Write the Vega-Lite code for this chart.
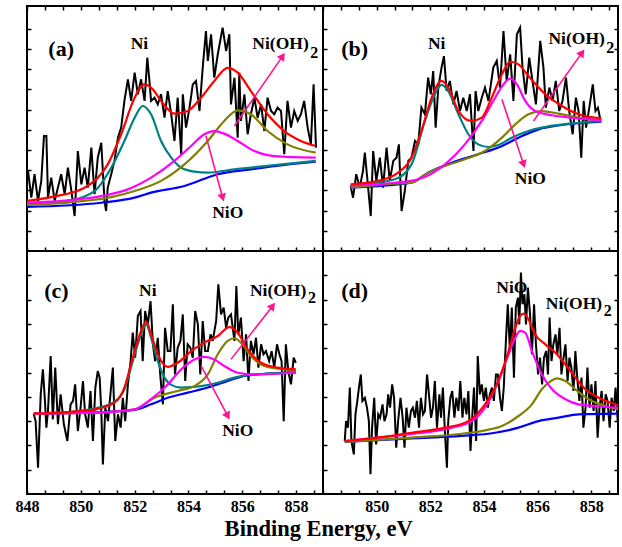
{
  "$schema": "https://vega.github.io/schema/vega-lite/v6.json",
  "padding": {"left": 14, "top": 4, "right": 4, "bottom": 4},
  "background": "white",
  "title": {"text": "Binding Energy, eV", "orient": "bottom", "anchor": "middle", "font": "Times New Roman, Liberation Serif, serif", "fontSize": 22.5, "fontWeight": "bold", "color": "black", "offset": 3},
  "config": {
    "view": {"stroke": "black", "strokeWidth": 2},
    "axis": {"tickColor": "black", "tickWidth": 1.5, "domain": false, "grid": false, "title": null},
    "text": {"font": "Times New Roman, Liberation Serif, serif"}
  },
  "datasets": {
    "a_exp": [
      {"x":848.04,"y":3.96},{"x":848.16,"y":2.64},{"x":848.28,"y":3.8},{"x":848.41,"y":2.48},{"x":848.53,"y":3.47},{"x":848.63,"y":5.69},{"x":848.72,"y":5.69},{"x":848.78,"y":2.64},{"x":848.9,"y":3.63},{"x":849.03,"y":2.48},{"x":849.15,"y":3.14},{"x":849.27,"y":3.8},{"x":849.4,"y":2.81},{"x":849.52,"y":4.13},{"x":849.65,"y":2.97},{"x":849.77,"y":1.73},{"x":849.89,"y":4.95},{"x":850.02,"y":3.3},{"x":850.14,"y":4.13},{"x":850.26,"y":3.14},{"x":850.39,"y":5.12},{"x":850.51,"y":2.81},{"x":850.63,"y":4.62},{"x":850.76,"y":5.36},{"x":850.88,"y":2.48},{"x":850.94,"y":1.98},{"x":851.0,"y":3.14},{"x":851.13,"y":3.8},{"x":851.25,"y":4.46},{"x":851.38,"y":5.61},{"x":851.5,"y":6.11},{"x":851.62,"y":7.43},{"x":851.75,"y":8.5},{"x":851.87,"y":7.43},{"x":852.0,"y":8.83},{"x":852.12,"y":7.76},{"x":852.24,"y":8.5},{"x":852.37,"y":7.43},{"x":852.47,"y":9.57},{"x":852.55,"y":8.42},{"x":852.61,"y":7.43},{"x":852.74,"y":7.59},{"x":852.86,"y":7.26},{"x":852.98,"y":7.76},{"x":853.11,"y":6.6},{"x":853.23,"y":7.92},{"x":853.36,"y":6.77},{"x":853.48,"y":5.45},{"x":853.6,"y":7.59},{"x":853.73,"y":4.79},{"x":853.79,"y":7.76},{"x":853.91,"y":6.11},{"x":854.04,"y":7.1},{"x":854.16,"y":8.25},{"x":854.28,"y":8.42},{"x":854.41,"y":6.93},{"x":854.53,"y":9.08},{"x":854.65,"y":10.89},{"x":854.72,"y":9.41},{"x":854.84,"y":10.73},{"x":854.96,"y":8.58},{"x":855.09,"y":9.74},{"x":855.27,"y":11.06},{"x":855.4,"y":9.9},{"x":855.52,"y":10.73},{"x":855.58,"y":7.26},{"x":855.71,"y":8.58},{"x":855.83,"y":5.61},{"x":855.89,"y":8.83},{"x":855.95,"y":6.44},{"x":856.08,"y":7.76},{"x":856.2,"y":5.78},{"x":856.32,"y":6.77},{"x":856.45,"y":7.59},{"x":856.57,"y":6.6},{"x":856.7,"y":7.26},{"x":856.82,"y":5.94},{"x":856.94,"y":7.59},{"x":857.07,"y":6.93},{"x":857.19,"y":6.77},{"x":857.31,"y":7.1},{"x":857.44,"y":6.93},{"x":857.56,"y":4.79},{"x":857.68,"y":7.43},{"x":857.81,"y":6.11},{"x":857.93,"y":6.93},{"x":858.06,"y":6.44},{"x":858.18,"y":6.77},{"x":858.3,"y":7.43},{"x":858.43,"y":6.11},{"x":858.55,"y":5.28},{"x":858.65,"y":8.25},{"x":858.74,"y":5.12}
    ],
    "a_fit": [
      {"s":"bg","x":848.0,"y":2.18},{"s":"bg","x":850.76,"y":2.39},{"s":"bg","x":852.0,"y":2.64},{"s":"bg","x":852.61,"y":2.89},{"s":"bg","x":853.85,"y":3.22},{"s":"bg","x":855.09,"y":3.8},{"s":"bg","x":856.32,"y":4.04},{"s":"bg","x":857.56,"y":4.26},{"s":"bg","x":858.73,"y":4.42},
      {"s":"Ni","x":848.0,"y":2.31},{"s":"Ni","x":849.52,"y":2.48},{"s":"Ni","x":850.51,"y":2.97},{"s":"Ni","x":851.13,"y":4.12},{"s":"Ni","x":851.62,"y":5.45},{"s":"Ni","x":852.0,"y":6.6},{"s":"Ni","x":852.3,"y":7.18},{"s":"Ni","x":852.61,"y":6.77},{"s":"Ni","x":852.98,"y":5.45},{"s":"Ni","x":853.36,"y":4.62},{"s":"Ni","x":853.73,"y":4.12},{"s":"Ni","x":854.22,"y":3.93},{"s":"Ni","x":854.72,"y":3.88},{"s":"Ni","x":855.7,"y":4.04},{"s":"Ni","x":856.94,"y":4.21},{"s":"Ni","x":858.73,"y":4.46},
      {"s":"NiOH","x":848.0,"y":2.28},{"s":"NiOH","x":850.14,"y":2.48},{"s":"NiOH","x":851.13,"y":2.67},{"s":"NiOH","x":852.0,"y":2.97},{"s":"NiOH","x":852.98,"y":3.47},{"s":"NiOH","x":853.85,"y":4.29},{"s":"NiOH","x":854.72,"y":5.45},{"s":"NiOH","x":855.33,"y":6.44},{"s":"NiOH","x":855.83,"y":6.96},{"s":"NiOH","x":856.32,"y":6.77},{"s":"NiOH","x":856.94,"y":5.94},{"s":"NiOH","x":857.68,"y":5.28},{"s":"NiOH","x":858.73,"y":4.87},
      {"s":"NiO","x":848.0,"y":2.39},{"s":"NiO","x":849.52,"y":2.51},{"s":"NiO","x":850.76,"y":2.72},{"s":"NiO","x":851.75,"y":3.05},{"s":"NiO","x":852.61,"y":3.63},{"s":"NiO","x":853.48,"y":4.46},{"s":"NiO","x":854.1,"y":5.2},{"s":"NiO","x":854.59,"y":5.78},{"s":"NiO","x":854.96,"y":5.94},{"s":"NiO","x":855.33,"y":5.81},{"s":"NiO","x":855.83,"y":5.45},{"s":"NiO","x":856.45,"y":4.95},{"s":"NiO","x":857.19,"y":4.7},{"s":"NiO","x":858.73,"y":4.62},
      {"s":"fit","x":848.0,"y":2.48},{"s":"fit","x":848.9,"y":2.67},{"s":"fit","x":850.14,"y":3.13},{"s":"fit","x":851.0,"y":4.29},{"s":"fit","x":851.5,"y":5.78},{"s":"fit","x":852.0,"y":7.59},{"s":"fit","x":852.36,"y":8.25},{"s":"fit","x":852.68,"y":8.0},{"s":"fit","x":852.98,"y":7.43},{"s":"fit","x":853.48,"y":6.8},{"s":"fit","x":853.97,"y":6.93},{"s":"fit","x":854.47,"y":7.59},{"s":"fit","x":854.96,"y":8.42},{"s":"fit","x":855.46,"y":9.07},{"s":"fit","x":855.83,"y":8.83},{"s":"fit","x":856.32,"y":7.92},{"s":"fit","x":856.94,"y":6.77},{"s":"fit","x":857.56,"y":5.94},{"s":"fit","x":858.18,"y":5.45},{"s":"fit","x":858.73,"y":5.2}
    ],
    "b_exp": [
      {"x":849.03,"y":3.22},{"x":849.12,"y":2.64},{"x":849.24,"y":3.8},{"x":849.37,"y":3.14},{"x":849.49,"y":3.96},{"x":849.56,"y":4.87},{"x":849.66,"y":3.47},{"x":849.78,"y":1.73},{"x":849.87,"y":4.95},{"x":849.99,"y":3.47},{"x":850.12,"y":4.62},{"x":850.24,"y":3.14},{"x":850.37,"y":5.12},{"x":850.49,"y":3.47},{"x":850.62,"y":4.46},{"x":850.74,"y":4.62},{"x":850.83,"y":5.28},{"x":850.93,"y":1.98},{"x":851.05,"y":2.97},{"x":851.18,"y":4.46},{"x":851.3,"y":4.62},{"x":851.43,"y":5.45},{"x":851.55,"y":5.28},{"x":851.67,"y":7.1},{"x":851.8,"y":6.77},{"x":851.92,"y":8.58},{"x":852.02,"y":7.76},{"x":852.11,"y":8.91},{"x":852.2,"y":6.11},{"x":852.3,"y":8.09},{"x":852.42,"y":9.08},{"x":852.51,"y":9.65},{"x":852.61,"y":7.92},{"x":852.73,"y":8.42},{"x":852.86,"y":7.26},{"x":852.98,"y":7.92},{"x":853.11,"y":6.93},{"x":853.23,"y":7.59},{"x":853.36,"y":6.93},{"x":853.48,"y":7.76},{"x":853.61,"y":4.95},{"x":853.69,"y":7.92},{"x":853.79,"y":6.93},{"x":853.92,"y":7.59},{"x":854.04,"y":8.09},{"x":854.17,"y":7.43},{"x":854.35,"y":9.08},{"x":854.48,"y":9.41},{"x":854.6,"y":8.09},{"x":854.73,"y":10.89},{"x":854.85,"y":8.42},{"x":854.98,"y":9.74},{"x":855.1,"y":7.43},{"x":855.23,"y":10.73},{"x":855.35,"y":11.06},{"x":855.44,"y":9.08},{"x":855.56,"y":7.76},{"x":855.69,"y":9.57},{"x":855.81,"y":8.42},{"x":855.94,"y":7.26},{"x":856.1,"y":10.4},{"x":856.22,"y":9.08},{"x":856.31,"y":7.1},{"x":856.44,"y":8.09},{"x":856.56,"y":7.43},{"x":856.68,"y":8.42},{"x":856.81,"y":6.93},{"x":856.93,"y":7.43},{"x":857.06,"y":8.58},{"x":857.18,"y":6.93},{"x":857.31,"y":5.78},{"x":857.43,"y":7.59},{"x":857.53,"y":6.93},{"x":857.63,"y":4.62},{"x":857.72,"y":7.43},{"x":857.81,"y":6.11},{"x":857.93,"y":7.1},{"x":858.06,"y":8.25},{"x":858.16,"y":6.93},{"x":858.25,"y":7.1},{"x":858.34,"y":6.52}
    ],
    "b_fit": [
      {"s":"bg","x":849.03,"y":3.14},{"s":"bg","x":851.3,"y":3.38},{"s":"bg","x":851.92,"y":3.88},{"s":"bg","x":852.8,"y":4.37},{"s":"bg","x":853.79,"y":4.79},{"s":"bg","x":854.54,"y":5.12},{"s":"bg","x":855.29,"y":5.61},{"s":"bg","x":856.04,"y":6.02},{"s":"bg","x":856.91,"y":6.24},{"s":"bg","x":858.38,"y":6.4},
      {"s":"Ni","x":849.03,"y":3.25},{"s":"Ni","x":850.68,"y":3.55},{"s":"Ni","x":851.3,"y":4.29},{"s":"Ni","x":851.8,"y":6.44},{"s":"Ni","x":852.17,"y":7.76},{"s":"Ni","x":852.42,"y":8.22},{"s":"Ni","x":852.67,"y":7.92},{"s":"Ni","x":853.05,"y":6.77},{"s":"Ni","x":853.42,"y":5.78},{"s":"Ni","x":853.79,"y":5.28},{"s":"Ni","x":854.17,"y":5.15},{"s":"Ni","x":854.54,"y":5.25},{"s":"Ni","x":855.04,"y":5.61},{"s":"Ni","x":855.66,"y":5.94},{"s":"Ni","x":856.29,"y":6.14},{"s":"Ni","x":857.53,"y":6.35},{"s":"Ni","x":858.38,"y":6.44},
      {"s":"NiOH","x":849.03,"y":3.14},{"s":"NiOH","x":850.68,"y":3.33},{"s":"NiOH","x":851.3,"y":3.38},{"s":"NiOH","x":851.92,"y":3.88},{"s":"NiOH","x":852.55,"y":4.21},{"s":"NiOH","x":853.29,"y":4.54},{"s":"NiOH","x":854.04,"y":4.95},{"s":"NiOH","x":854.67,"y":5.61},{"s":"NiOH","x":855.17,"y":6.27},{"s":"NiOH","x":855.66,"y":6.77},{"s":"NiOH","x":856.16,"y":6.93},{"s":"NiOH","x":856.78,"y":6.8},{"s":"NiOH","x":857.53,"y":6.6},{"s":"NiOH","x":858.38,"y":6.44},
      {"s":"NiO","x":849.03,"y":3.25},{"s":"NiO","x":850.68,"y":3.38},{"s":"NiO","x":851.55,"y":3.55},{"s":"NiO","x":852.55,"y":4.29},{"s":"NiO","x":853.29,"y":5.28},{"s":"NiO","x":853.92,"y":6.44},{"s":"NiO","x":854.42,"y":7.59},{"s":"NiO","x":854.73,"y":8.25},{"s":"NiO","x":854.98,"y":8.53},{"s":"NiO","x":855.23,"y":8.25},{"s":"NiO","x":855.54,"y":7.43},{"s":"NiO","x":855.91,"y":6.93},{"s":"NiO","x":856.54,"y":6.72},{"s":"NiO","x":857.53,"y":6.57},{"s":"NiO","x":858.38,"y":6.49},
      {"s":"fit","x":849.03,"y":3.3},{"s":"fit","x":850.05,"y":3.47},{"s":"fit","x":850.8,"y":3.88},{"s":"fit","x":851.3,"y":4.62},{"s":"fit","x":851.67,"y":5.94},{"s":"fit","x":852.05,"y":7.59},{"s":"fit","x":852.42,"y":8.42},{"s":"fit","x":852.67,"y":8.09},{"s":"fit","x":853.05,"y":6.93},{"s":"fit","x":853.54,"y":6.44},{"s":"fit","x":853.92,"y":6.6},{"s":"fit","x":854.29,"y":7.59},{"s":"fit","x":854.67,"y":8.75},{"s":"fit","x":854.98,"y":9.37},{"s":"fit","x":855.29,"y":9.24},{"s":"fit","x":855.66,"y":8.66},{"s":"fit","x":856.29,"y":7.76},{"s":"fit","x":856.91,"y":7.18},{"s":"fit","x":857.53,"y":6.77},{"s":"fit","x":858.38,"y":6.57}
    ],
    "c_exp": [
      {"x":848.25,"y":3.28},{"x":848.32,"y":3.0},{"x":848.41,"y":1.08},{"x":848.51,"y":4.1},{"x":848.59,"y":5.13},{"x":848.66,"y":3.96},{"x":848.72,"y":2.73},{"x":848.78,"y":3.42},{"x":848.88,"y":5.68},{"x":848.96,"y":3.07},{"x":849.05,"y":5.2},{"x":849.15,"y":2.87},{"x":849.25,"y":4.1},{"x":849.37,"y":2.87},{"x":849.5,"y":2.18},{"x":849.62,"y":3.69},{"x":849.71,"y":3.83},{"x":849.79,"y":4.51},{"x":849.89,"y":2.59},{"x":849.99,"y":3.55},{"x":850.08,"y":4.65},{"x":850.16,"y":3.28},{"x":850.26,"y":2.73},{"x":850.36,"y":4.24},{"x":850.45,"y":2.18},{"x":850.54,"y":4.38},{"x":850.63,"y":5.06},{"x":850.7,"y":4.79},{"x":850.76,"y":3.42},{"x":850.82,"y":1.22},{"x":850.91,"y":3.55},{"x":851.01,"y":3.0},{"x":851.1,"y":4.1},{"x":851.19,"y":5.2},{"x":851.28,"y":2.18},{"x":851.38,"y":3.28},{"x":851.48,"y":2.73},{"x":851.56,"y":3.96},{"x":851.65,"y":3.0},{"x":851.75,"y":4.51},{"x":851.85,"y":5.47},{"x":851.93,"y":6.64},{"x":852.02,"y":5.61},{"x":852.12,"y":7.33},{"x":852.22,"y":7.53},{"x":852.3,"y":5.47},{"x":852.39,"y":7.53},{"x":852.49,"y":6.98},{"x":852.59,"y":7.94},{"x":852.68,"y":6.16},{"x":852.76,"y":5.47},{"x":852.86,"y":6.43},{"x":852.96,"y":4.79},{"x":853.05,"y":3.69},{"x":853.13,"y":6.84},{"x":853.23,"y":5.88},{"x":853.33,"y":5.88},{"x":853.42,"y":7.81},{"x":853.5,"y":4.92},{"x":853.6,"y":6.02},{"x":853.7,"y":6.3},{"x":853.79,"y":7.39},{"x":853.88,"y":4.65},{"x":853.97,"y":6.16},{"x":854.07,"y":6.02},{"x":854.16,"y":5.61},{"x":854.25,"y":7.53},{"x":854.35,"y":6.98},{"x":854.44,"y":4.92},{"x":854.53,"y":7.12},{"x":854.62,"y":5.88},{"x":854.72,"y":5.88},{"x":854.82,"y":6.57},{"x":854.9,"y":6.3},{"x":855.03,"y":7.12},{"x":855.11,"y":8.63},{"x":855.21,"y":7.39},{"x":855.31,"y":7.67},{"x":855.4,"y":6.84},{"x":855.48,"y":7.26},{"x":855.58,"y":7.39},{"x":855.71,"y":6.3},{"x":855.78,"y":8.56},{"x":855.85,"y":6.57},{"x":855.95,"y":7.26},{"x":856.05,"y":5.47},{"x":856.14,"y":6.57},{"x":856.23,"y":4.65},{"x":856.32,"y":6.3},{"x":856.42,"y":5.75},{"x":856.51,"y":6.43},{"x":856.6,"y":5.2},{"x":856.7,"y":6.16},{"x":856.79,"y":5.75},{"x":856.88,"y":5.88},{"x":857.0,"y":5.47},{"x":857.09,"y":5.88},{"x":857.19,"y":5.2},{"x":857.29,"y":6.16},{"x":857.38,"y":5.75},{"x":857.46,"y":5.47},{"x":857.54,"y":3.0},{"x":857.62,"y":6.16},{"x":857.71,"y":5.06},{"x":857.81,"y":4.51},{"x":857.91,"y":5.61},{"x":857.99,"y":5.4}
    ],
    "c_fit": [
      {"s":"bg","x":848.25,"y":3.31},{"s":"bg","x":850.76,"y":3.37},{"s":"bg","x":852.0,"y":3.46},{"s":"bg","x":852.61,"y":3.69},{"s":"bg","x":853.23,"y":3.96},{"s":"bg","x":853.97,"y":4.17},{"s":"bg","x":854.72,"y":4.38},{"s":"bg","x":855.46,"y":4.65},{"s":"bg","x":856.08,"y":4.86},{"s":"bg","x":856.94,"y":4.95},{"s":"bg","x":857.99,"y":4.99},
      {"s":"Ni","x":848.25,"y":3.31},{"s":"Ni","x":849.52,"y":3.37},{"s":"Ni","x":850.63,"y":3.55},{"s":"Ni","x":851.25,"y":3.79},{"s":"Ni","x":851.62,"y":4.31},{"s":"Ni","x":851.93,"y":5.47},{"s":"Ni","x":852.24,"y":6.57},{"s":"Ni","x":852.43,"y":6.98},{"s":"Ni","x":852.61,"y":6.43},{"s":"Ni","x":852.86,"y":5.47},{"s":"Ni","x":853.11,"y":4.79},{"s":"Ni","x":853.36,"y":4.49},{"s":"Ni","x":853.73,"y":4.38},{"s":"Ni","x":854.47,"y":4.44},{"s":"Ni","x":855.09,"y":4.58},{"s":"Ni","x":855.71,"y":4.79},{"s":"Ni","x":856.32,"y":4.9},{"s":"Ni","x":856.94,"y":4.95},{"s":"Ni","x":857.99,"y":5.03},
      {"s":"NiOH","x":848.25,"y":3.31},{"s":"NiOH","x":850.76,"y":3.36},{"s":"NiOH","x":852.0,"y":3.48},{"s":"NiOH","x":852.74,"y":3.96},{"s":"NiOH","x":853.6,"y":4.24},{"s":"NiOH","x":854.22,"y":4.44},{"s":"NiOH","x":854.72,"y":4.92},{"s":"NiOH","x":855.09,"y":5.75},{"s":"NiOH","x":855.46,"y":6.3},{"s":"NiOH","x":855.71,"y":6.41},{"s":"NiOH","x":855.95,"y":6.23},{"s":"NiOH","x":856.32,"y":5.68},{"s":"NiOH","x":856.82,"y":5.27},{"s":"NiOH","x":857.56,"y":5.13},{"s":"NiOH","x":857.99,"y":5.09},
      {"s":"NiO","x":848.25,"y":3.31},{"s":"NiO","x":850.76,"y":3.36},{"s":"NiO","x":852.0,"y":3.48},{"s":"NiO","x":852.61,"y":3.9},{"s":"NiO","x":853.23,"y":4.51},{"s":"NiO","x":853.73,"y":5.13},{"s":"NiO","x":854.22,"y":5.54},{"s":"NiO","x":854.59,"y":5.64},{"s":"NiO","x":854.96,"y":5.54},{"s":"NiO","x":855.33,"y":5.27},{"s":"NiO","x":855.83,"y":4.99},{"s":"NiO","x":856.45,"y":4.92},{"s":"NiO","x":857.99,"y":4.99},
      {"s":"fit","x":848.25,"y":3.31},{"s":"fit","x":849.52,"y":3.37},{"s":"fit","x":850.51,"y":3.48},{"s":"fit","x":851.25,"y":3.76},{"s":"fit","x":851.62,"y":4.38},{"s":"fit","x":851.93,"y":5.61},{"s":"fit","x":852.24,"y":6.71},{"s":"fit","x":852.43,"y":7.09},{"s":"fit","x":852.61,"y":6.57},{"s":"fit","x":852.86,"y":5.75},{"s":"fit","x":853.23,"y":5.23},{"s":"fit","x":853.6,"y":5.4},{"s":"fit","x":854.1,"y":5.88},{"s":"fit","x":854.59,"y":6.23},{"s":"fit","x":855.09,"y":6.5},{"s":"fit","x":855.52,"y":6.87},{"s":"fit","x":855.83,"y":6.64},{"s":"fit","x":856.2,"y":5.95},{"s":"fit","x":856.7,"y":5.4},{"s":"fit","x":857.31,"y":5.2},{"s":"fit","x":857.99,"y":5.13}
    ],
    "d_exp": [
      {"x":848.81,"y":2.18},{"x":848.86,"y":3.0},{"x":848.93,"y":2.73},{"x":849.0,"y":4.38},{"x":849.06,"y":2.18},{"x":849.15,"y":1.63},{"x":849.21,"y":3.28},{"x":849.28,"y":3.83},{"x":849.34,"y":4.38},{"x":849.41,"y":4.92},{"x":849.47,"y":3.83},{"x":849.56,"y":3.96},{"x":849.64,"y":3.55},{"x":849.71,"y":3.0},{"x":849.77,"y":0.81},{"x":849.83,"y":2.73},{"x":849.91,"y":3.96},{"x":849.98,"y":2.04},{"x":850.06,"y":3.28},{"x":850.13,"y":3.14},{"x":850.22,"y":3.69},{"x":850.29,"y":3.0},{"x":850.37,"y":3.28},{"x":850.43,"y":4.1},{"x":850.5,"y":3.55},{"x":850.58,"y":4.51},{"x":850.65,"y":3.96},{"x":850.73,"y":1.91},{"x":850.8,"y":3.0},{"x":850.89,"y":3.96},{"x":850.97,"y":3.14},{"x":851.04,"y":1.91},{"x":851.11,"y":3.55},{"x":851.2,"y":2.73},{"x":851.28,"y":3.42},{"x":851.35,"y":3.55},{"x":851.43,"y":3.14},{"x":851.5,"y":3.83},{"x":851.58,"y":2.73},{"x":851.65,"y":3.96},{"x":851.73,"y":3.28},{"x":851.8,"y":3.42},{"x":851.88,"y":4.92},{"x":851.95,"y":4.1},{"x":852.03,"y":3.14},{"x":852.1,"y":3.55},{"x":852.17,"y":4.65},{"x":852.25,"y":2.73},{"x":852.34,"y":4.1},{"x":852.4,"y":3.14},{"x":852.47,"y":4.38},{"x":852.55,"y":2.46},{"x":852.62,"y":1.08},{"x":852.67,"y":3.0},{"x":852.75,"y":3.96},{"x":852.82,"y":4.24},{"x":852.9,"y":3.14},{"x":852.97,"y":3.96},{"x":853.05,"y":3.42},{"x":853.12,"y":4.65},{"x":853.2,"y":3.14},{"x":853.27,"y":3.96},{"x":853.35,"y":3.28},{"x":853.42,"y":4.24},{"x":853.5,"y":1.77},{"x":853.57,"y":3.28},{"x":853.63,"y":4.38},{"x":853.71,"y":2.18},{"x":853.77,"y":5.68},{"x":853.85,"y":4.1},{"x":853.92,"y":4.51},{"x":854.0,"y":3.83},{"x":854.07,"y":4.38},{"x":854.15,"y":3.55},{"x":854.22,"y":4.1},{"x":854.3,"y":4.38},{"x":854.37,"y":3.83},{"x":854.45,"y":4.92},{"x":854.52,"y":4.92},{"x":854.6,"y":3.96},{"x":854.67,"y":3.42},{"x":854.74,"y":4.38},{"x":854.82,"y":6.3},{"x":854.89,"y":7.81},{"x":854.97,"y":5.88},{"x":855.04,"y":7.67},{"x":855.12,"y":4.79},{"x":855.19,"y":7.67},{"x":855.27,"y":8.08},{"x":855.32,"y":6.98},{"x":855.38,"y":9.11},{"x":855.44,"y":7.81},{"x":855.51,"y":8.22},{"x":855.57,"y":6.98},{"x":855.64,"y":8.49},{"x":855.72,"y":7.39},{"x":855.79,"y":5.75},{"x":855.87,"y":7.81},{"x":855.94,"y":6.16},{"x":856.02,"y":4.92},{"x":856.09,"y":5.61},{"x":856.17,"y":4.51},{"x":856.24,"y":5.61},{"x":856.32,"y":5.88},{"x":856.39,"y":4.92},{"x":856.45,"y":7.26},{"x":856.52,"y":5.47},{"x":856.59,"y":6.16},{"x":856.67,"y":6.57},{"x":856.74,"y":5.75},{"x":856.82,"y":6.84},{"x":856.89,"y":4.92},{"x":856.97,"y":5.61},{"x":857.04,"y":6.16},{"x":857.12,"y":4.65},{"x":857.19,"y":5.61},{"x":857.26,"y":5.2},{"x":857.34,"y":4.24},{"x":857.41,"y":5.88},{"x":857.49,"y":4.65},{"x":857.56,"y":3.83},{"x":857.64,"y":4.79},{"x":857.71,"y":2.73},{"x":857.79,"y":3.55},{"x":857.86,"y":5.2},{"x":857.94,"y":3.55},{"x":858.01,"y":4.51},{"x":858.09,"y":3.42},{"x":858.16,"y":4.65},{"x":858.24,"y":2.32},{"x":858.31,"y":3.55},{"x":858.39,"y":4.24},{"x":858.46,"y":3.0},{"x":858.54,"y":4.1},{"x":858.61,"y":3.83},{"x":858.69,"y":2.73},{"x":858.76,"y":3.96},{"x":858.84,"y":3.42},{"x":858.91,"y":4.38},{"x":858.99,"y":3.0}
    ],
    "d_fit": [
      {"s":"bg","x":848.81,"y":2.14},{"s":"bg","x":851.3,"y":2.29},{"s":"bg","x":853.17,"y":2.39},{"s":"bg","x":854.42,"y":2.52},{"s":"bg","x":855.29,"y":2.73},{"s":"bg","x":856.04,"y":3.0},{"s":"bg","x":856.78,"y":3.14},{"s":"bg","x":857.53,"y":3.28},{"s":"bg","x":859.0,"y":3.31},
      {"s":"NiOH","x":848.81,"y":2.14},{"s":"NiOH","x":851.3,"y":2.32},{"s":"NiOH","x":853.17,"y":2.48},{"s":"NiOH","x":854.04,"y":2.62},{"s":"NiOH","x":854.67,"y":2.8},{"s":"NiOH","x":855.29,"y":3.21},{"s":"NiOH","x":855.79,"y":3.69},{"s":"NiOH","x":856.16,"y":4.31},{"s":"NiOH","x":856.54,"y":4.68},{"s":"NiOH","x":856.72,"y":4.76},{"s":"NiOH","x":857.04,"y":4.65},{"s":"NiOH","x":857.41,"y":4.31},{"s":"NiOH","x":857.91,"y":3.9},{"s":"NiOH","x":858.41,"y":3.66},{"s":"NiOH","x":859.0,"y":3.48},
      {"s":"NiO","x":848.81,"y":2.18},{"s":"NiO","x":850.68,"y":2.39},{"s":"NiO","x":851.93,"y":2.55},{"s":"NiO","x":852.8,"y":2.73},{"s":"NiO","x":853.55,"y":3.0},{"s":"NiO","x":854.04,"y":3.55},{"s":"NiO","x":854.54,"y":4.65},{"s":"NiO","x":854.92,"y":5.75},{"s":"NiO","x":855.17,"y":6.43},{"s":"NiO","x":855.35,"y":6.71},{"s":"NiO","x":855.54,"y":6.64},{"s":"NiO","x":855.79,"y":5.88},{"s":"NiO","x":856.16,"y":4.92},{"s":"NiO","x":856.54,"y":4.31},{"s":"NiO","x":857.04,"y":3.9},{"s":"NiO","x":857.53,"y":3.69},{"s":"NiO","x":858.28,"y":3.61},{"s":"NiO","x":859.0,"y":3.55},
      {"s":"fit","x":848.81,"y":2.18},{"s":"fit","x":850.05,"y":2.32},{"s":"fit","x":851.3,"y":2.52},{"s":"fit","x":852.55,"y":2.73},{"s":"fit","x":853.42,"y":3.0},{"s":"fit","x":854.04,"y":3.69},{"s":"fit","x":854.54,"y":4.65},{"s":"fit","x":854.92,"y":5.88},{"s":"fit","x":855.17,"y":6.84},{"s":"fit","x":855.35,"y":7.33},{"s":"fit","x":855.48,"y":7.42},{"s":"fit","x":855.66,"y":7.19},{"s":"fit","x":855.91,"y":6.57},{"s":"fit","x":856.29,"y":6.16},{"s":"fit","x":856.66,"y":5.82},{"s":"fit","x":857.03,"y":5.34},{"s":"fit","x":857.41,"y":4.79},{"s":"fit","x":857.78,"y":4.31},{"s":"fit","x":858.28,"y":3.96},{"s":"fit","x":859.0,"y":3.65}
    ],
    "arrows": [
      {"p":"a","x":855.71,"y":6.19,"x2":857.5,"y2":9.65},
      {"p":"a","x":854.65,"y":5.69,"x2":855.27,"y2":2.64},
      {"p":"b","x":855.85,"y":6.44,"x2":857.66,"y2":9.82},
      {"p":"b","x":854.67,"y":7.51,"x2":855.48,"y2":4.29},
      {"p":"c","x":855.58,"y":5.54,"x2":857.13,"y2":7.74},
      {"p":"c","x":854.47,"y":5.27,"x2":855.46,"y2":3.21}
    ],
    "ann": [
      {"p":"a","k":"panel","t":"(a)","x":849.27,"y":9.98},
      {"p":"a","k":"lbl","t":"Ni","x":852.18,"y":10.23},
      {"p":"a","k":"lbl","t":"NiO","x":855.46,"y":1.9},
      {"p":"a","k":"pre","t":"Ni(OH)","x":858.47,"y":10.23},
      {"p":"a","k":"sub","t":"2","x":858.53,"y":9.82},
      {"p":"b","k":"panel","t":"(b)","x":849.18,"y":9.98},
      {"p":"b","k":"lbl","t":"Ni","x":852.24,"y":10.23},
      {"p":"b","k":"lbl","t":"NiO","x":855.73,"y":3.55},
      {"p":"b","k":"pre","t":"Ni(OH)","x":858.51,"y":10.48},
      {"p":"b","k":"sub","t":"2","x":858.56,"y":10.07},
      {"p":"c","k":"panel","t":"(c)","x":849.09,"y":8.35},
      {"p":"c","k":"lbl","t":"Ni","x":852.49,"y":8.35},
      {"p":"c","k":"lbl","t":"NiO","x":855.83,"y":2.59},
      {"p":"c","k":"pre","t":"Ni(OH)","x":858.38,"y":8.35},
      {"p":"c","k":"sub","t":"2","x":858.44,"y":8.08},
      {"p":"d","k":"panel","t":"(d)","x":849.18,"y":8.35},
      {"p":"d","k":"lbl","t":"NiO","x":855.04,"y":8.49},
      {"p":"d","k":"pre","t":"Ni(OH)","x":858.41,"y":7.81},
      {"p":"d","k":"sub","t":"2","x":858.47,"y":7.53}
    ]
  },
  "columns": 2,
  "spacing": 0,
  "bounds": "flush",
  "concat": [
    {
      "width": 296, "height": 245,
      "resolve": {"axis": {"x": "independent", "y": "independent"}},
      "layer": [
        {"data": {"name": "a_exp"}, "mark": {"type": "line", "color": "black", "strokeWidth": 2},
         "encoding": {
           "x": {"field": "x", "type": "quantitative", "scale": {"domain": [848, 859], "nice": false, "zero": false},
                 "axis": {"orient": "bottom", "values": [848,848.667,849.333,850,850.667,851.333,852,852.667,853.333,854,854.667,855.333,856,856.667,857.333,858,858.667], "labels": false, "tickSize": -4}},
           "y": {"field": "y", "type": "quantitative", "scale": {"domain": [0, 12.13], "nice": false, "zero": false},
                 "axis": {"orient": "left", "values": [1,2,3,4,5,6,7,8,9,10,11], "labels": false, "tickSize": -4}}}},
        {"data": {"name": "a_fit"}, "mark": {"type": "line", "strokeWidth": 2.2, "interpolate": "monotone"},
         "encoding": {
           "x": {"field": "x", "type": "quantitative", "scale": {"domain": [848, 859], "nice": false, "zero": false},
                 "axis": {"orient": "top", "values": [848,848.667,849.333,850,850.667,851.333,852,852.667,853.333,854,854.667,855.333,856,856.667,857.333,858,858.667], "labels": false, "tickSize": -4}},
           "y": {"field": "y", "type": "quantitative", "axis": null},
           "color": {"field": "s", "type": "nominal", "legend": null, "scale": {"domain": ["bg","Ni","NiOH","NiO","fit"], "range": ["#0000ff","#008080","#808000","#ff00ff","#ff0000"]}}}},
        {"data": {"name": "arrows"}, "transform": [{"filter": "datum.p == 'a'"}],
         "mark": {"type": "rule", "color": "#ff1493", "strokeWidth": 1.6},
         "encoding": {"x": {"field": "x", "type": "quantitative", "axis": null}, "y": {"field": "y", "type": "quantitative", "axis": null}, "x2": {"field": "x2"}, "y2": {"field": "y2"}}},
        {"data": {"name": "arrows"}, "transform": [{"filter": "datum.p == 'a'"}, {"calculate": "atan2((datum.x2-datum.x)*26.9, (datum.y2-datum.y)*20.2)*180/PI", "as": "ang"}],
         "mark": {"type": "point", "shape": "triangle-up", "filled": true, "color": "#ff1493", "size": 80, "opacity": 1},
         "encoding": {"x": {"field": "x2", "type": "quantitative", "axis": null}, "y": {"field": "y2", "type": "quantitative", "axis": null}, "angle": {"field": "ang", "type": "quantitative", "scale": null}}},
        {"data": {"name": "ann"}, "transform": [{"filter": "datum.p == 'a' && datum.k == 'panel'"}],
         "mark": {"type": "text", "fontWeight": "bold", "fontSize": 22, "color": "black", "align": "center", "baseline": "middle"},
         "encoding": {"x": {"field": "x", "type": "quantitative", "axis": null}, "y": {"field": "y", "type": "quantitative", "axis": null}, "text": {"field": "t"}}},
        {"data": {"name": "ann"}, "transform": [{"filter": "datum.p == 'a' && datum.k == 'lbl'"}],
         "mark": {"type": "text", "fontWeight": "bold", "fontSize": 17.5, "color": "black", "align": "center", "baseline": "middle"},
         "encoding": {"x": {"field": "x", "type": "quantitative", "axis": null}, "y": {"field": "y", "type": "quantitative", "axis": null}, "text": {"field": "t"}}},
        {"data": {"name": "ann"}, "transform": [{"filter": "datum.p == 'a' && datum.k == 'pre'"}],
         "mark": {"type": "text", "fontWeight": "bold", "fontSize": 17.5, "color": "black", "align": "right", "baseline": "middle"},
         "encoding": {"x": {"field": "x", "type": "quantitative", "axis": null}, "y": {"field": "y", "type": "quantitative", "axis": null}, "text": {"field": "t"}}},
        {"data": {"name": "ann"}, "transform": [{"filter": "datum.p == 'a' && datum.k == 'sub'"}],
         "mark": {"type": "text", "fontWeight": "bold", "fontSize": 16, "color": "black", "align": "left", "baseline": "middle"},
         "encoding": {"x": {"field": "x", "type": "quantitative", "axis": null}, "y": {"field": "y", "type": "quantitative", "axis": null}, "text": {"field": "t"}}}
      ]
    },
    {
      "width": 295, "height": 245,
      "resolve": {"axis": {"x": "independent", "y": "independent"}},
      "layer": [
        {"data": {"name": "b_exp"}, "mark": {"type": "line", "color": "black", "strokeWidth": 2},
         "encoding": {
           "x": {"field": "x", "type": "quantitative", "scale": {"domain": [848, 859], "nice": false, "zero": false},
                 "axis": {"orient": "bottom", "values": [848,848.667,849.333,850,850.667,851.333,852,852.667,853.333,854,854.667,855.333,856,856.667,857.333,858,858.667], "labels": false, "tickSize": -4}},
           "y": {"field": "y", "type": "quantitative", "scale": {"domain": [0, 12.13], "nice": false, "zero": false},
                 "axis": {"orient": "left", "values": [1,2,3,4,5,6,7,8,9,10,11], "labels": false, "tickSize": -4}}}},
        {"data": {"name": "b_fit"}, "mark": {"type": "line", "strokeWidth": 2.2, "interpolate": "monotone"},
         "encoding": {
           "x": {"field": "x", "type": "quantitative", "scale": {"domain": [848, 859], "nice": false, "zero": false},
                 "axis": {"orient": "top", "values": [848,848.667,849.333,850,850.667,851.333,852,852.667,853.333,854,854.667,855.333,856,856.667,857.333,858,858.667], "labels": false, "tickSize": -4}},
           "y": {"field": "y", "type": "quantitative", "scale": {"domain": [0, 12.13], "nice": false, "zero": false},
                 "axis": {"orient": "right", "values": [1,2,3,4,5,6,7,8,9,10,11], "labels": false, "tickSize": -4}},
           "color": {"field": "s", "type": "nominal", "legend": null, "scale": {"domain": ["bg","Ni","NiOH","NiO","fit"], "range": ["#0000ff","#008080","#808000","#ff00ff","#ff0000"]}}}},
        {"data": {"name": "arrows"}, "transform": [{"filter": "datum.p == 'b'"}],
         "mark": {"type": "rule", "color": "#ff1493", "strokeWidth": 1.6},
         "encoding": {"x": {"field": "x", "type": "quantitative", "axis": null}, "y": {"field": "y", "type": "quantitative", "axis": null}, "x2": {"field": "x2"}, "y2": {"field": "y2"}}},
        {"data": {"name": "arrows"}, "transform": [{"filter": "datum.p == 'b'"}, {"calculate": "atan2((datum.x2-datum.x)*26.8, (datum.y2-datum.y)*20.2)*180/PI", "as": "ang"}],
         "mark": {"type": "point", "shape": "triangle-up", "filled": true, "color": "#ff1493", "size": 80, "opacity": 1},
         "encoding": {"x": {"field": "x2", "type": "quantitative", "axis": null}, "y": {"field": "y2", "type": "quantitative", "axis": null}, "angle": {"field": "ang", "type": "quantitative", "scale": null}}},
        {"data": {"name": "ann"}, "transform": [{"filter": "datum.p == 'b' && datum.k == 'panel'"}],
         "mark": {"type": "text", "fontWeight": "bold", "fontSize": 22, "color": "black", "align": "center", "baseline": "middle"},
         "encoding": {"x": {"field": "x", "type": "quantitative", "axis": null}, "y": {"field": "y", "type": "quantitative", "axis": null}, "text": {"field": "t"}}},
        {"data": {"name": "ann"}, "transform": [{"filter": "datum.p == 'b' && datum.k == 'lbl'"}],
         "mark": {"type": "text", "fontWeight": "bold", "fontSize": 17.5, "color": "black", "align": "center", "baseline": "middle"},
         "encoding": {"x": {"field": "x", "type": "quantitative", "axis": null}, "y": {"field": "y", "type": "quantitative", "axis": null}, "text": {"field": "t"}}},
        {"data": {"name": "ann"}, "transform": [{"filter": "datum.p == 'b' && datum.k == 'pre'"}],
         "mark": {"type": "text", "fontWeight": "bold", "fontSize": 17.5, "color": "black", "align": "right", "baseline": "middle"},
         "encoding": {"x": {"field": "x", "type": "quantitative", "axis": null}, "y": {"field": "y", "type": "quantitative", "axis": null}, "text": {"field": "t"}}},
        {"data": {"name": "ann"}, "transform": [{"filter": "datum.p == 'b' && datum.k == 'sub'"}],
         "mark": {"type": "text", "fontWeight": "bold", "fontSize": 16, "color": "black", "align": "left", "baseline": "middle"},
         "encoding": {"x": {"field": "x", "type": "quantitative", "axis": null}, "y": {"field": "y", "type": "quantitative", "axis": null}, "text": {"field": "t"}}}
      ]
    },
    {
      "width": 296, "height": 243,
      "resolve": {"axis": {"x": "independent", "y": "independent"}},
      "layer": [
        {"data": {"name": "c_exp"}, "mark": {"type": "line", "color": "black", "strokeWidth": 2},
         "encoding": {
           "x": {"field": "x", "type": "quantitative", "scale": {"domain": [848, 859], "nice": false, "zero": false},
                 "axis": {"orient": "bottom", "values": [848,848.667,849.333,850,850.667,851.333,852,852.667,853.333,854,854.667,855.333,856,856.667,857.333,858,858.667], "tickSize": -4, "labelExpr": "(abs(datum.value - round(datum.value)) < 0.01 && round(datum.value) % 2 == 0) ? '' + round(datum.value) : ''", "labelFlush": false, "labelOverlap": false, "labelBound": false, "labelFont": "Times New Roman, Liberation Serif, serif", "labelFontWeight": "bold", "labelFontSize": 16, "labelColor": "black", "labelPadding": 8}},
           "y": {"field": "y", "type": "quantitative", "scale": {"domain": [0, 10], "nice": false, "zero": false},
                 "axis": {"orient": "left", "values": [1,2,3,4,5,6,7,8,9], "labels": false, "tickSize": -4}}}},
        {"data": {"name": "c_fit"}, "mark": {"type": "line", "strokeWidth": 2.2, "interpolate": "monotone"},
         "encoding": {
           "x": {"field": "x", "type": "quantitative", "axis": null},
           "y": {"field": "y", "type": "quantitative", "axis": null},
           "color": {"field": "s", "type": "nominal", "legend": null, "scale": {"domain": ["bg","Ni","NiOH","NiO","fit"], "range": ["#0000ff","#008080","#808000","#ff00ff","#ff0000"]}}}},
        {"data": {"name": "arrows"}, "transform": [{"filter": "datum.p == 'c'"}],
         "mark": {"type": "rule", "color": "#ff1493", "strokeWidth": 1.6},
         "encoding": {"x": {"field": "x", "type": "quantitative", "axis": null}, "y": {"field": "y", "type": "quantitative", "axis": null}, "x2": {"field": "x2"}, "y2": {"field": "y2"}}},
        {"data": {"name": "arrows"}, "transform": [{"filter": "datum.p == 'c'"}, {"calculate": "atan2((datum.x2-datum.x)*26.9, (datum.y2-datum.y)*24.3)*180/PI", "as": "ang"}],
         "mark": {"type": "point", "shape": "triangle-up", "filled": true, "color": "#ff1493", "size": 80, "opacity": 1},
         "encoding": {"x": {"field": "x2", "type": "quantitative", "axis": null}, "y": {"field": "y2", "type": "quantitative", "axis": null}, "angle": {"field": "ang", "type": "quantitative", "scale": null}}},
        {"data": {"name": "ann"}, "transform": [{"filter": "datum.p == 'c' && datum.k == 'panel'"}],
         "mark": {"type": "text", "fontWeight": "bold", "fontSize": 22, "color": "black", "align": "center", "baseline": "middle"},
         "encoding": {"x": {"field": "x", "type": "quantitative", "axis": null}, "y": {"field": "y", "type": "quantitative", "axis": null}, "text": {"field": "t"}}},
        {"data": {"name": "ann"}, "transform": [{"filter": "datum.p == 'c' && datum.k == 'lbl'"}],
         "mark": {"type": "text", "fontWeight": "bold", "fontSize": 17.5, "color": "black", "align": "center", "baseline": "middle"},
         "encoding": {"x": {"field": "x", "type": "quantitative", "axis": null}, "y": {"field": "y", "type": "quantitative", "axis": null}, "text": {"field": "t"}}},
        {"data": {"name": "ann"}, "transform": [{"filter": "datum.p == 'c' && datum.k == 'pre'"}],
         "mark": {"type": "text", "fontWeight": "bold", "fontSize": 17.5, "color": "black", "align": "right", "baseline": "middle"},
         "encoding": {"x": {"field": "x", "type": "quantitative", "axis": null}, "y": {"field": "y", "type": "quantitative", "axis": null}, "text": {"field": "t"}}},
        {"data": {"name": "ann"}, "transform": [{"filter": "datum.p == 'c' && datum.k == 'sub'"}],
         "mark": {"type": "text", "fontWeight": "bold", "fontSize": 16, "color": "black", "align": "left", "baseline": "middle"},
         "encoding": {"x": {"field": "x", "type": "quantitative", "axis": null}, "y": {"field": "y", "type": "quantitative", "axis": null}, "text": {"field": "t"}}}
      ]
    },
    {
      "width": 295, "height": 243,
      "resolve": {"axis": {"x": "independent", "y": "independent"}},
      "layer": [
        {"data": {"name": "d_exp"}, "mark": {"type": "line", "color": "black", "strokeWidth": 2},
         "encoding": {
           "x": {"field": "x", "type": "quantitative", "scale": {"domain": [848, 859], "nice": false, "zero": false},
                 "axis": {"orient": "bottom", "values": [848,848.667,849.333,850,850.667,851.333,852,852.667,853.333,854,854.667,855.333,856,856.667,857.333,858,858.667], "tickSize": -4, "labelExpr": "(abs(datum.value - round(datum.value)) < 0.01 && round(datum.value) % 2 == 0 && round(datum.value) > 848) ? '' + round(datum.value) : ''", "labelFlush": false, "labelOverlap": false, "labelBound": false, "labelFont": "Times New Roman, Liberation Serif, serif", "labelFontWeight": "bold", "labelFontSize": 16, "labelColor": "black", "labelPadding": 8}},
           "y": {"field": "y", "type": "quantitative", "scale": {"domain": [0, 10], "nice": false, "zero": false},
                 "axis": {"orient": "left", "values": [1,2,3,4,5,6,7,8,9], "labels": false, "tickSize": -4}}}},
        {"data": {"name": "d_fit"}, "mark": {"type": "line", "strokeWidth": 2.2, "interpolate": "monotone"},
         "encoding": {
           "x": {"field": "x", "type": "quantitative", "axis": null},
           "y": {"field": "y", "type": "quantitative", "scale": {"domain": [0, 10], "nice": false, "zero": false},
                 "axis": {"orient": "right", "values": [1,2,3,4,5,6,7,8,9], "labels": false, "tickSize": -4}},
           "color": {"field": "s", "type": "nominal", "legend": null, "scale": {"domain": ["bg","Ni","NiOH","NiO","fit"], "range": ["#0000ff","#008080","#808000","#ff00ff","#ff0000"]}}}},
        {"data": {"name": "ann"}, "transform": [{"filter": "datum.p == 'd' && datum.k == 'panel'"}],
         "mark": {"type": "text", "fontWeight": "bold", "fontSize": 22, "color": "black", "align": "center", "baseline": "middle"},
         "encoding": {"x": {"field": "x", "type": "quantitative", "axis": null}, "y": {"field": "y", "type": "quantitative", "axis": null}, "text": {"field": "t"}}},
        {"data": {"name": "ann"}, "transform": [{"filter": "datum.p == 'd' && datum.k == 'lbl'"}],
         "mark": {"type": "text", "fontWeight": "bold", "fontSize": 17.5, "color": "black", "align": "center", "baseline": "middle"},
         "encoding": {"x": {"field": "x", "type": "quantitative", "axis": null}, "y": {"field": "y", "type": "quantitative", "axis": null}, "text": {"field": "t"}}},
        {"data": {"name": "ann"}, "transform": [{"filter": "datum.p == 'd' && datum.k == 'pre'"}],
         "mark": {"type": "text", "fontWeight": "bold", "fontSize": 17.5, "color": "black", "align": "right", "baseline": "middle"},
         "encoding": {"x": {"field": "x", "type": "quantitative", "axis": null}, "y": {"field": "y", "type": "quantitative", "axis": null}, "text": {"field": "t"}}},
        {"data": {"name": "ann"}, "transform": [{"filter": "datum.p == 'd' && datum.k == 'sub'"}],
         "mark": {"type": "text", "fontWeight": "bold", "fontSize": 16, "color": "black", "align": "left", "baseline": "middle"},
         "encoding": {"x": {"field": "x", "type": "quantitative", "axis": null}, "y": {"field": "y", "type": "quantitative", "axis": null}, "text": {"field": "t"}}}
      ]
    }
  ]
}
